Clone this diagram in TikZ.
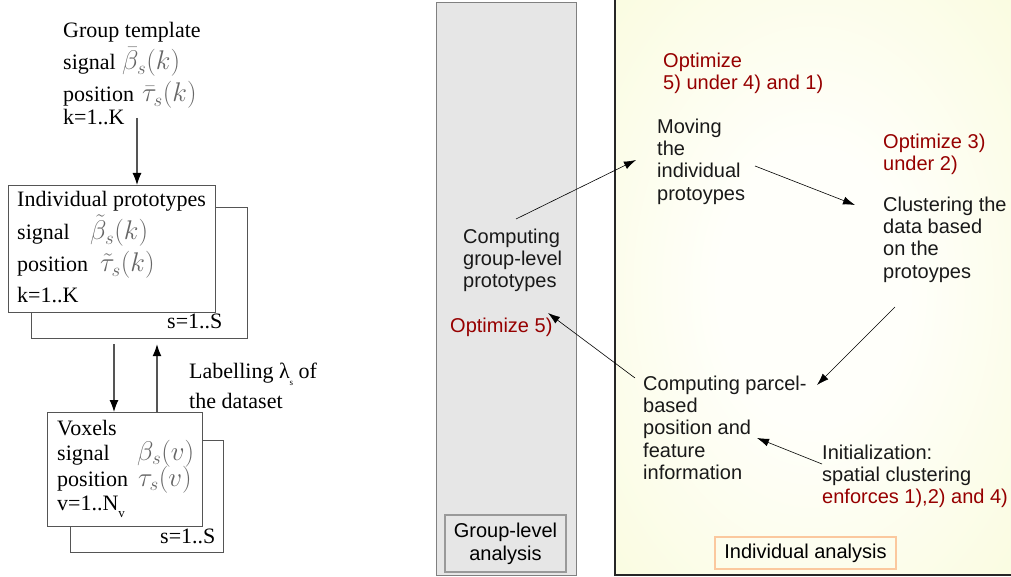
\documentclass[tikz,border=0pt]{standalone}
\usepackage{fix-cm}
\usepackage{fontspec}
\setmainfont{Liberation Serif}
\newfontfamily\arialfont{Liberation Sans}
\usetikzlibrary{arrows.meta}

\definecolor{optred}{RGB}{150,0,0}
\definecolor{panelgray}{RGB}{230,230,230}
\definecolor{yellowout}{RGB}{246,249,204}
\definecolor{yellowin}{RGB}{255,255,250}
\definecolor{boxline}{RGB}{85,85,85}
\definecolor{orangeline}{RGB}{251,200,158}

\pgfdeclareradialshading{panelglow}{\pgfpoint{0bp}{0bp}}{color(0bp)=(yellowin); color(12bp)=(yellowin); color(55bp)=(yellowout); color(80bp)=(yellowout)}

\tikzset{
  serif/.style={anchor=base west, inner sep=0pt, font=\fontsize{22}{26}\selectfont},
  mathtxt/.style={anchor=base west, inner sep=0pt, text=black!60, font=\fontsize{27}{30}\selectfont},
  sans/.style={anchor=north west, inner sep=0pt, align=left, text=black!90,
    font=\arialfont\fontsize{20}{22.3}\selectfont},
  redtxt/.style={sans, text=optred},
  stack/.style={draw=boxline, line width=1.2pt, fill=white, anchor=north west, inner sep=0pt},
  arr/.style={-{Latex[length=12pt,width=9pt,color=black]}, line width=1.1pt, boxline},
  rarr/.style={-{Latex[length=12pt,width=8pt]}, line width=0.6pt},
}

\begin{document}
\begin{tikzpicture}[x=1pt,y=-1pt]
\useasboundingbox (0,0) rectangle (1011,577);

% left: group template
\node[serif] (grpT) at (63,38) {Group template};
\node[serif] (grpS) at (63,70) {signal};
\node[mathtxt] (grpSm) at (122,70) {$\bar{\beta}_s(k)$};
\node[serif] (grpP) at (63,102) {position};
\node[mathtxt] (grpPm) at (142,102) {$\bar{\tau}_s(k)$};
\node[serif] (grpK) at (63,125) {k=1..K};

% individual prototypes, stacked
\node[stack, minimum width=216pt, minimum height=131pt] (protoB) at (31,207) {};
\node[stack, minimum width=207pt, minimum height=127pt] (protoF) at (8,185) {};
\node[serif] (protoT) at (17,207) {Individual prototypes};
\node[serif] (protoS) at (17,240) {signal};
\node[mathtxt] (protoSm) at (90,240) {$\tilde{\beta}_s(k)$};
\node[serif] (protoP) at (17,272) {position};
\node[mathtxt] (protoPm) at (100,272) {$\tilde{\tau}_s(k)$};
\node[serif] (protoK) at (17,302) {k=1..K};
\node[serif] (protoN) at (167,328) {s=1..S};

% voxels, stacked
\node[stack, minimum width=153pt, minimum height=112pt] (voxB) at (70,440) {};
\node[stack, minimum width=155pt, minimum height=114pt] (voxF) at (47,412) {};
\node[serif] (voxT) at (57,435) {Voxels};
\node[serif] (voxS) at (57,460) {signal};
\node[mathtxt] (voxSm) at (137,460) {$\beta_s(v)$};
\node[serif] (voxP) at (57,486) {position};
\node[mathtxt] (voxPm) at (138,486) {$\tau_s(v)$};
\node[serif] (voxN) at (57,510) {v=1..N\raisebox{-7pt}{\fontsize{13}{13}\selectfont v}};
\node[serif] (voxNs) at (160,543) {s=1..S};

\node[serif] (lab1) at (189,378) {Labelling λ\raisebox{-7pt}{\fontsize{9}{9}\selectfont s} of};
\node[serif] (lab2) at (189,408) {the dataset};

\coordinate (grpOut) at (137,118);
\coordinate (dnX) at (114,0);
\coordinate (upX) at (157,0);
\draw[arr] (grpOut) -- (grpOut |- protoF.north);
\draw[arr, shorten <=5pt] (protoB.south -| dnX) -- (voxF.north -| dnX);
\draw[arr, shorten >=5pt] (voxF.north -| upX) -- (protoB.south -| upX);

% right: the two panels
\fill[panelgray] (436,2) rectangle (576,575);
\draw[gray, line width=0.8pt] (436,2) rectangle (576,575);
\shade[shading=panelglow] (615,0) rectangle (1011,575);
\draw[black!85, line width=1.2pt] (615,-2) -- (615,575) -- (1013,575);

\node[draw=gray!80, line width=2.5pt, fill=panelgray, minimum width=121pt, minimum height=57pt,
  align=center, inner sep=0pt, font=\arialfont\fontsize{20}{23}\selectfont] (glbox) at (505.5,543.5) {Group-level\\analysis};
\node[draw=orangeline, line width=2.5pt, minimum width=181pt, minimum height=32pt,
  inner sep=0pt, font=\arialfont\fontsize{20}{23}\selectfont] (indbox) at (805.5,553) {Individual analysis};

\node[sans] (cgp) at (463,228.5) {Computing\\group-level\\prototypes};
\node[redtxt] (opt5) at (450,318) {Optimize 5)};
\node[redtxt] (optA) at (663,52.5) {Optimize\\5) under 4) and 1)};
\node[sans] (mov) at (657,118.5) {Moving\\the\\individual\\protoypes};
\node[redtxt] (optB) at (883,133.5) {Optimize 3)\\under 2)};
\node[sans] (clu) at (883,196.5) {Clustering the\\data based\\on the\\protoypes};
\node[sans] (cpb) at (643,375.5) {Computing parcel-\\based\\position and\\feature\\information};
\node[sans] (ini) at (822,444.5) {Initialization:\\spatial clustering\\\textcolor{optred}{enforces 1),2) and 4)}};

\draw[rarr] ([shift={(53,-9.5)}]cgp.north west) -- ([shift={(-21,41.5)}]mov.north west);
\draw[rarr] ([shift={(98,47.5)}]mov.north west) -- ([shift={(-28,8.5)}]clu.north west);
\draw[rarr] ([shift={(12,110.5)}]clu.north west) -- ([shift={(174,9.5)}]cpb.north west);
\draw[rarr] ([shift={(-8,2.5)}]cpb.north west) -- ([shift={(85,84.5)}]cgp.north west);
\draw[rarr] ([shift={(0,19.5)}]ini.north west) -- ([shift={(114,62.5)}]cpb.north west);
\end{tikzpicture}
\end{document}
